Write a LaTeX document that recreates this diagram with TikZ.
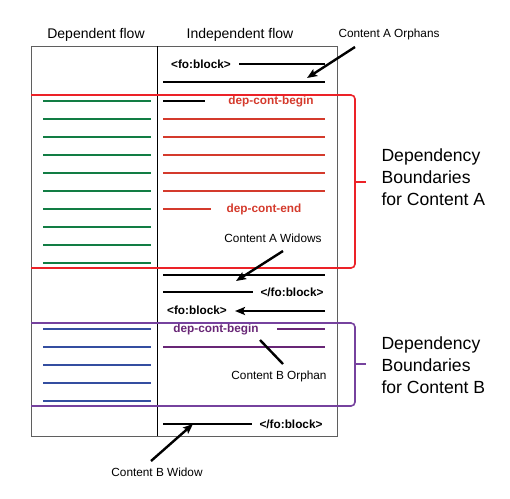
\documentclass[tikz,border=0pt]{standalone}
\usepackage{fontspec}
\setmainfont{Liberation Sans}
\usepackage{xcolor}
\usepackage{tikz}
\usetikzlibrary{arrows.meta}
\definecolor{depgreen}{RGB}{18,125,68}
\definecolor{depred}{RGB}{212,58,44}
\definecolor{bndred}{RGB}{236,34,40}
\definecolor{deppurple}{RGB}{104,38,118}
\definecolor{bndpurple}{RGB}{118,66,158}
\definecolor{depblue}{RGB}{52,78,160}
\definecolor{boxgray}{RGB}{95,95,95}

\begin{document}
\begin{tikzpicture}[x=1pt,y=-1pt,
    head/.style={font=\fontsize{14}{16}\selectfont},
    lbl/.style={font=\fontsize{11.8}{14}\selectfont},
    tag/.style={font=\fontsize{11.8}{14}\selectfont\bfseries},
    side/.style={font=\fontsize{17.6}{22}\selectfont, align=left, anchor=west},
    row/.style={line width=2pt},
    pointer/.style={line width=2.4pt, -{Stealth[length=10pt,width=8pt,inset=2pt]}},
    bound/.style={line width=1.6pt, rounded corners=4pt}]
    \useasboundingbox (0,0) rectangle (510,498);
    \draw[boxgray, line width=1pt] (31,46) rectangle (337,436);
    \draw[line width=1pt] (157,46) -- (157,436);
    \node[head] (dephead) at (96,35) {Dependent flow};
    \node[head] (indhead) at (240,35) {Independent flow};
    \draw[depgreen, row] (43,101) -- (151,101) (43,119) -- (151,119) (43,137) -- (151,137) (43,155) -- (151,155) (43,173) -- (151,173)
        (43,191) -- (151,191) (43,209) -- (151,209) (43,227) -- (151,227) (43,245) -- (151,245) (43,263) -- (151,263);
    \draw[depblue, row] (43,329) -- (151,329) (43,347) -- (151,347) (43,365) -- (151,365) (43,383) -- (151,383) (43,401) -- (151,401);
    \node[tag] (blockA) at (201,64) {<fo:block>};
    \draw[row] (239,64) -- (325,64) (163,82) -- (325,82) (163,101) -- (205,101);
    \node[tag, depred] (beginA) at (271,101) {dep-cont-begin};
    \draw[depred, row] (163,119) -- (325,119) (163,137) -- (325,137) (163,155) -- (325,155) (163,173) -- (325,173) (163,191) -- (325,191)
        (163,209) -- (211,209);
    \node[tag, depred] (endA) at (264,209) {dep-cont-end};
    \draw[row] (163,275) -- (325,275) (163,292) -- (253,292);
    \node[tag] (closeA) at (292,292) {</fo:block>};
    \node[tag] (blockB) at (197,310) {<fo:block>};
    \node[tag, deppurple] (beginB) at (216,329) {dep-cont-begin};
    \draw[deppurple, row] (277,329) -- (325,329) (163,347) -- (325,347);
    \draw[row] (163,424) -- (252,424);
    \node[tag] (closeB) at (291,424) {</fo:block>};
    \draw[bndred, bound] (31,95) -- (355,95) -- (355,268) -- (31,268);
    \draw[bndred, line width=1.6pt] (355,182) -- (366,182);
    \draw[bndpurple, bound] (31,323) -- (355,323) -- (355,406) -- (31,406);
    \draw[bndpurple, line width=1.6pt] (355,364) -- (366,364);
    \node[side] (sideA) at (378,177) {Dependency\\Boundaries\\for Content A};
    \node[side] (sideB) at (378,365) {Dependency\\Boundaries\\for Content B};
    \node[lbl] (orphA) at (389,34) {Content A Orphans};
    \node[lbl] (widA) at (273,238) {Content A Widows};
    \node[lbl] (orphB) at (279,376) {Content B Orphan};
    \node[lbl] (widB) at (157,472) {Content B Widow};
    \coordinate (orphAtail) at (355,47);
    \coordinate (orphAtip) at (307,78);
    \coordinate (widAtail) at (283,251);
    \coordinate (widAtip) at (236,281);
    \coordinate (movetail) at (325,311);
    \coordinate (movetip) at (235,311);
    \coordinate (orphBtail) at (283,364);
    \coordinate (orphBtip) at (260,340);
    \coordinate (widBtail) at (151,461);
    \coordinate (widBtip) at (193,424);
    \draw[pointer] (orphAtail) -- (orphAtip);
    \draw[pointer] (widAtail) -- (widAtip);
    \draw[pointer, line width=2pt] (movetail) -- (movetip);
    \draw[line width=2.4pt] (orphBtail) -- (orphBtip);
    \draw[pointer] (widBtail) -- (widBtip);
\end{tikzpicture}
\end{document}
